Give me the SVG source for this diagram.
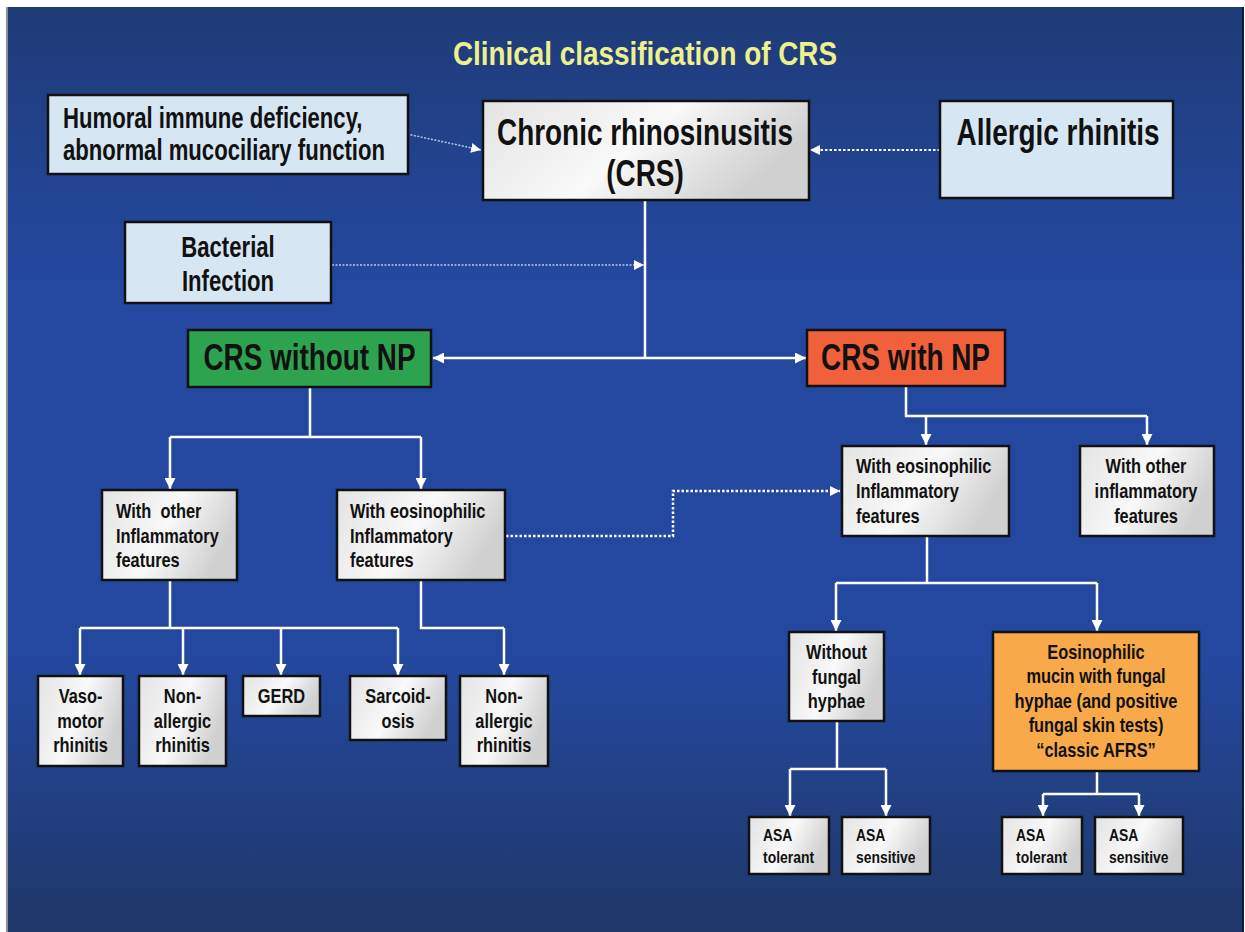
<svg xmlns="http://www.w3.org/2000/svg" width="1245" height="932" viewBox="0 0 1245 932">
<defs>
<linearGradient id="bg" x1="0" y1="0" x2="0" y2="1">
<stop offset="0" stop-color="#1f3b77"/>
<stop offset="0.3" stop-color="#2448a0"/>
<stop offset="0.7" stop-color="#2448a0"/>
<stop offset="1" stop-color="#1f3768"/>
</linearGradient>
<linearGradient id="gray" x1="0" y1="0" x2="1" y2="0.35">
<stop offset="0" stop-color="#e3e3e3"/>
<stop offset="0.55" stop-color="#f9f9f9"/>
<stop offset="1" stop-color="#d0d0d0"/>
</linearGradient>
<marker id="ah" viewBox="0 0 10 10" refX="10" refY="5" markerWidth="11" markerHeight="11" markerUnits="userSpaceOnUse" orient="auto-start-reverse">
<path d="M0,0 L10,5 L0,10 z" fill="#ffffff"/>
</marker>
<marker id="ahs" viewBox="0 0 10 10" refX="10" refY="5" markerWidth="10" markerHeight="10" markerUnits="userSpaceOnUse" orient="auto">
<path d="M0,0 L10,5 L0,10 z" fill="#ffffff"/>
</marker>
</defs>
<style>
.box{stroke:#111;stroke-width:2.5}
.g{fill:url(#gray)}
.lb{fill:#d6e7f3}
.t{font-family:"Liberation Sans",Arial,sans-serif;font-weight:bold;fill:#111}
.big{font-size:36px}
.mid{font-size:29px}
.sm{font-size:20px}
.xs{font-size:17px}
.c{text-anchor:middle}
.ln{fill:none;stroke:#fff;stroke-width:2.5}
.arr{marker-end:url(#ah)}
.dot{fill:none;stroke:#fff;stroke-width:2.5;stroke-dasharray:2.5 2}
.thin{fill:none;stroke:#b9c9e6;stroke-width:1.5;stroke-dasharray:2 1.5}
</style>
<rect x="0" y="0" width="1245" height="932" fill="#ffffff"/>
<rect x="8" y="7" width="1235" height="925" fill="url(#bg)"/>
<rect x="6" y="7" width="2" height="925" fill="#8a8e96"/>
<rect x="1242" y="7" width="2" height="925" fill="#0d1a3a"/>

<text id="title" class="t" transform="translate(645,65) scale(0.82 1)" text-anchor="middle" font-size="34" style="fill:#eef08c">Clinical classification of CRS</text>

<g id="connectors">
<path class="thin" d="M407,134 L481,150" marker-end="url(#ahs)"/>
<path class="dot" d="M940,150 H810" marker-end="url(#ahs)" style="stroke-width:2"/>
<path class="thin" d="M332,265 H644" marker-end="url(#ahs)"/>
<path class="ln" d="M645,200 V358"/>
<path class="ln" d="M433,358 H806" marker-start="url(#ah)" marker-end="url(#ah)"/>
<path class="ln" d="M310,387 V437 M170,437 H421"/>
<path class="ln arr" d="M170,437 V489"/>
<path class="ln arr" d="M421,437 V489"/>
<path class="ln" d="M906,386 V416 H1147"/>
<path class="ln arr" d="M926,416 V445"/>
<path class="ln arr" d="M1147,416 V445"/>
<path class="dot" d="M506,536 H673 V491 H840" marker-end="url(#ahs)"/>
<path class="ln" d="M170,580 V628 M80,628 H398"/>
<path class="ln arr" d="M80,628 V675"/>
<path class="ln arr" d="M183,628 V675"/>
<path class="ln arr" d="M281,628 V675"/>
<path class="ln arr" d="M398,628 V675"/>
<path class="ln" d="M421,580 V628 H504"/>
<path class="ln arr" d="M504,628 V675"/>
<path class="ln" d="M927,536 V583 M836,583 H1097"/>
<path class="ln arr" d="M836,583 V631"/>
<path class="ln arr" d="M1097,583 V631"/>
<path class="ln" d="M837,721 V769 M790,769 H886"/>
<path class="ln arr" d="M790,769 V816"/>
<path class="ln arr" d="M886,769 V816"/>
<path class="ln" d="M1097,771 V794 M1043,794 H1139"/>
<path class="ln arr" d="M1043,794 V816"/>
<path class="ln arr" d="M1139,794 V816"/>
</g>

<g id="humoral">
<rect class="box lb" x="48" y="95" width="360" height="79"/>
<text class="t mid" transform="translate(63,128) scale(0.763 1)">Humoral immune deficiency,<tspan x="0" dy="32">abnormal mucociliary function</tspan></text>
</g>
<g id="crs">
<rect class="box g" x="483" y="101" width="326" height="99"/>
<text class="t big c" transform="translate(645,145) scale(0.775 1)">Chronic rhinosinusitis<tspan x="0" dy="41">(CRS)</tspan></text>
</g>
<g id="allergic">
<rect class="box lb" x="940" y="101" width="233" height="97"/>
<text class="t big c" transform="translate(1058,145) scale(0.775 1)">Allergic rhinitis</text>
</g>
<g id="bacterial">
<rect class="box lb" x="125" y="222" width="206" height="81"/>
<text class="t mid c" transform="translate(228,257) scale(0.763 1)">Bacterial<tspan x="0" dy="34">Infection</tspan></text>
</g>
<g id="crs-without-np">
<rect class="box" x="188" y="330" width="243" height="57" fill="#2da34f"/>
<text class="t big c" transform="translate(309.5,370) scale(0.775 1)">CRS without NP</text>
</g>
<g id="crs-with-np">
<rect class="box" x="807" y="330" width="198" height="56" fill="#f0603a"/>
<text class="t big c" transform="translate(905.5,370) scale(0.775 1)">CRS with NP</text>
</g>
<g id="left-other">
<rect class="box g" x="102" y="490" width="135" height="90"/>
<text class="t sm" xml:space="preserve" transform="translate(116,518) scale(0.82 1)">With  other<tspan x="0" dy="25">Inflammatory</tspan><tspan x="0" dy="24">features</tspan></text>
</g>
<g id="left-eos">
<rect class="box g" x="337" y="490" width="168" height="90"/>
<text class="t sm" transform="translate(350,518) scale(0.82 1)">With eosinophilic<tspan x="0" dy="25">Inflammatory</tspan><tspan x="0" dy="24">features</tspan></text>
</g>
<g id="right-eos">
<rect class="box g" x="842" y="446" width="167" height="90"/>
<text class="t sm" transform="translate(856,473) scale(0.82 1)">With eosinophilic<tspan x="0" dy="25">Inflammatory</tspan><tspan x="0" dy="25">features</tspan></text>
</g>
<g id="right-other">
<rect class="box g" x="1080" y="446" width="134" height="90"/>
<text class="t sm c" transform="translate(1146,473) scale(0.82 1)">With other<tspan x="0" dy="25">inflammatory</tspan><tspan x="0" dy="25">features</tspan></text>
</g>
<g id="vasomotor">
<rect class="box g" x="38" y="676" width="85" height="90"/>
<text class="t sm c" transform="translate(80.5,703) scale(0.82 1)">Vaso-<tspan x="0" dy="25">motor</tspan><tspan x="0" dy="24">rhinitis</tspan></text>
</g>
<g id="nonallergic1">
<rect class="box g" x="139" y="676" width="87" height="90"/>
<text class="t sm c" transform="translate(182.5,703) scale(0.82 1)">Non-<tspan x="0" dy="25">allergic</tspan><tspan x="0" dy="24">rhinitis</tspan></text>
</g>
<g id="gerd">
<rect class="box g" x="243" y="676" width="77" height="40"/>
<text class="t sm c" transform="translate(281.5,703) scale(0.82 1)">GERD</text>
</g>
<g id="sarcoidosis">
<rect class="box g" x="350" y="676" width="96" height="64"/>
<text class="t sm c" transform="translate(398,703) scale(0.82 1)">Sarcoid-<tspan x="0" dy="25">osis</tspan></text>
</g>
<g id="nonallergic2">
<rect class="box g" x="460" y="676" width="88" height="90"/>
<text class="t sm c" transform="translate(504,703) scale(0.82 1)">Non-<tspan x="0" dy="25">allergic</tspan><tspan x="0" dy="24">rhinitis</tspan></text>
</g>
<g id="without-fungal">
<rect class="box g" x="789" y="632" width="95" height="89"/>
<text class="t sm c" transform="translate(836.5,659) scale(0.82 1)">Without<tspan x="0" dy="25">fungal</tspan><tspan x="0" dy="24">hyphae</tspan></text>
</g>
<g id="afrs">
<rect class="box" x="993" y="632" width="206" height="139" fill="#f8a94a"/>
<text class="t sm c" transform="translate(1096,659) scale(0.82 1)">Eosinophilic<tspan x="0" dy="24.5">mucin with fungal</tspan><tspan x="0" dy="24.5">hyphae (and positive</tspan><tspan x="0" dy="24.5">fungal skin tests)</tspan><tspan x="0" dy="24.5">“classic AFRS”</tspan></text>
</g>
<g id="asa-tolerant-1">
<rect class="box g" x="749" y="817" width="80" height="57"/>
<text class="t xs" transform="translate(763,841) scale(0.82 1)">ASA<tspan x="0" dy="22">tolerant</tspan></text>
</g>
<g id="asa-sensitive-1">
<rect class="box g" x="842" y="817" width="88" height="57"/>
<text class="t xs" transform="translate(856,841) scale(0.82 1)">ASA<tspan x="0" dy="22">sensitive</tspan></text>
</g>
<g id="asa-tolerant-2">
<rect class="box g" x="1002" y="817" width="80" height="57"/>
<text class="t xs" transform="translate(1016,841) scale(0.82 1)">ASA<tspan x="0" dy="22">tolerant</tspan></text>
</g>
<g id="asa-sensitive-2">
<rect class="box g" x="1095" y="817" width="88" height="57"/>
<text class="t xs" transform="translate(1109,841) scale(0.82 1)">ASA<tspan x="0" dy="22">sensitive</tspan></text>
</g>
</svg>
